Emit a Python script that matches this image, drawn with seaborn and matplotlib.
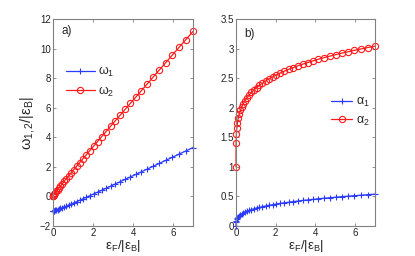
import matplotlib as mpl
mpl.use('Agg')
import matplotlib.pyplot as plt
import seaborn as sns
import pandas as pd

# x grid (eps_F/|eps_B|), denser near zero
eps_f = [0.0, 0.0046, 0.018, 0.041, 0.074, 0.115, 0.166, 0.226, 0.295, 0.373,
         0.460, 0.557, 0.663, 0.778, 0.902, 1.035, 1.178, 1.330, 1.491, 1.661,
         1.841, 2.030, 2.227, 2.434, 2.651, 2.876, 3.111, 3.355, 3.608, 3.870,
         4.142, 4.423, 4.713, 5.012, 5.320, 5.638, 5.965, 6.300, 6.646, 7.000]

omega1 = [-1.0, -0.998, -0.992, -0.982, -0.966, -0.947, -0.922, -0.892, -0.857, -0.816,
          -0.769, -0.715, -0.655, -0.590, -0.518, -0.439, -0.354, -0.263, -0.165, -0.062,
          0.049, 0.165, 0.287, 0.416, 0.551, 0.692, 0.840, 0.993, 1.153, 1.318,
          1.490, 1.668, 1.851, 2.041, 2.237, 2.438, 2.647, 2.859, 3.079, 3.305]

omega2 = [0.0, 0.024, 0.061, 0.113, 0.179, 0.258, 0.351, 0.458, 0.579, 0.713,
          0.860, 1.02, 1.20, 1.39, 1.59, 1.81, 2.04, 2.28, 2.54, 2.81,
          3.10, 3.40, 3.71, 4.04, 4.38, 4.74, 5.11, 5.49, 5.89, 6.30,
          6.72, 7.16, 7.61, 8.08, 8.56, 9.05, 9.56, 10.08, 10.61, 11.16]

alpha1 = [0.0, 0.060, 0.091, 0.115, 0.137, 0.157, 0.175, 0.192, 0.208, 0.223,
          0.238, 0.252, 0.265, 0.278, 0.291, 0.303, 0.315, 0.327, 0.338, 0.350,
          0.360, 0.371, 0.382, 0.392, 0.402, 0.412, 0.422, 0.432, 0.441, 0.450,
          0.460, 0.469, 0.478, 0.487, 0.496, 0.504, 0.513, 0.521, 0.530, 0.538]

alpha2 = [1.0, 1.407, 1.552, 1.660, 1.750, 1.826, 1.896, 1.958, 2.017, 2.071,
          2.121, 2.169, 2.215, 2.258, 2.300, 2.340, 2.380, 2.416, 2.453, 2.487,
          2.521, 2.554, 2.587, 2.618, 2.649, 2.678, 2.708, 2.736, 2.764, 2.791,
          2.819, 2.845, 2.871, 2.896, 2.922, 2.945, 2.971, 2.994, 3.018, 3.041]

df = pd.DataFrame({'ef': eps_f, 'w1': omega1, 'w2': omega2, 'a1': alpha1, 'a2': alpha2})

sns.set_style('ticks')
plt.rcParams['font.family'] = ['Liberation Sans', 'DejaVu Sans']
plt.rcParams['mathtext.fontset'] = 'custom'
plt.rcParams['mathtext.rm'] = 'Liberation Sans'
plt.rcParams['mathtext.it'] = 'Liberation Sans'

blue = '#2b3cff'
red = '#ff1a1a'
frame = '#808080'

fig = plt.figure(figsize=(4.15, 2.56), dpi=100)
ax1 = fig.add_axes([53 / 415, 30 / 256, 140 / 415, 207 / 256])
ax2 = fig.add_axes([236 / 415, 30 / 256, 139 / 415, 207 / 256])

plus_kw = dict(color=blue, marker='+', markersize=4.5, markeredgewidth=0.8,
               markeredgecolor=blue, lw=0.9, clip_on=False)
circ_kw = dict(color=red, marker='o', markersize=4.5, markerfacecolor='none',
               markeredgecolor=red, markeredgewidth=0.8, lw=0.9, clip_on=False)

sns.lineplot(data=df, x='ef', y='w1', ax=ax1, label='ω$_1$', **plus_kw)
sns.lineplot(data=df, x='ef', y='w2', ax=ax1, label='ω$_2$', **circ_kw)
sns.lineplot(data=df, x='ef', y='a1', ax=ax2, label='α$_1$', **plus_kw)
sns.lineplot(data=df, x='ef', y='a2', ax=ax2, label='α$_2$', **circ_kw)

xlab = 'ε$_\\mathrm{F}$/|ε$_\\mathrm{B}$|'

ax1.set_xlim(0, 7)
ax1.set_ylim(-2, 12)
ax1.set_yticks(range(-2, 13, 2))
ax1.set_xticks([0, 2, 4, 6])
ax1.set_ylabel('ω$_{1,2}$/|ε$_\\mathrm{B}$|', fontsize=10.5, labelpad=2)
ax1.set_xlabel(xlab, fontsize=9.5, labelpad=0)
ax1.text(0.4, 11.0, 'a)', fontsize=8.5)
ax1.legend(loc='upper left', bbox_to_anchor=(66 / 415, 1 - 65 / 256),
           bbox_transform=fig.transFigure, frameon=False, fontsize=9,
           handlelength=2.3, handletextpad=0.3, labelspacing=0.45,
           borderaxespad=0, borderpad=0)

ax2.set_xlim(0, 7)
ax2.set_ylim(0, 3.5)
ax2.set_yticks([0, 0.5, 1, 1.5, 2, 2.5, 3, 3.5])
ax2.set_yticklabels(['0', '0.5', '1', '1.5', '2', '2.5', '3', '3.5'])
ax2.set_xticks([0, 2, 4, 6])
ax2.set_ylabel('')
ax2.set_xlabel(xlab, fontsize=9.5, labelpad=0)
ax2.text(0.4, 3.2, 'b)', fontsize=8.5)
ax2.legend(loc='upper left', bbox_to_anchor=(331 / 415, 1 - 96 / 256),
           bbox_transform=fig.transFigure, frameon=False, fontsize=9,
           handlelength=1.7, handletextpad=0.3, labelspacing=0.45,
           borderaxespad=0, borderpad=0)

for ax in (ax1, ax2):
    ax.tick_params(direction='in', labelsize=7, length=2.5, width=0.6, pad=1.5,
                   top=True, right=True, colors=frame, labelcolor='#222222')
    for s in ax.spines.values():
        s.set_visible(True)
        s.set_linewidth(0.8)
        s.set_color(frame)

fig.savefig('out.png', dpi=100)
